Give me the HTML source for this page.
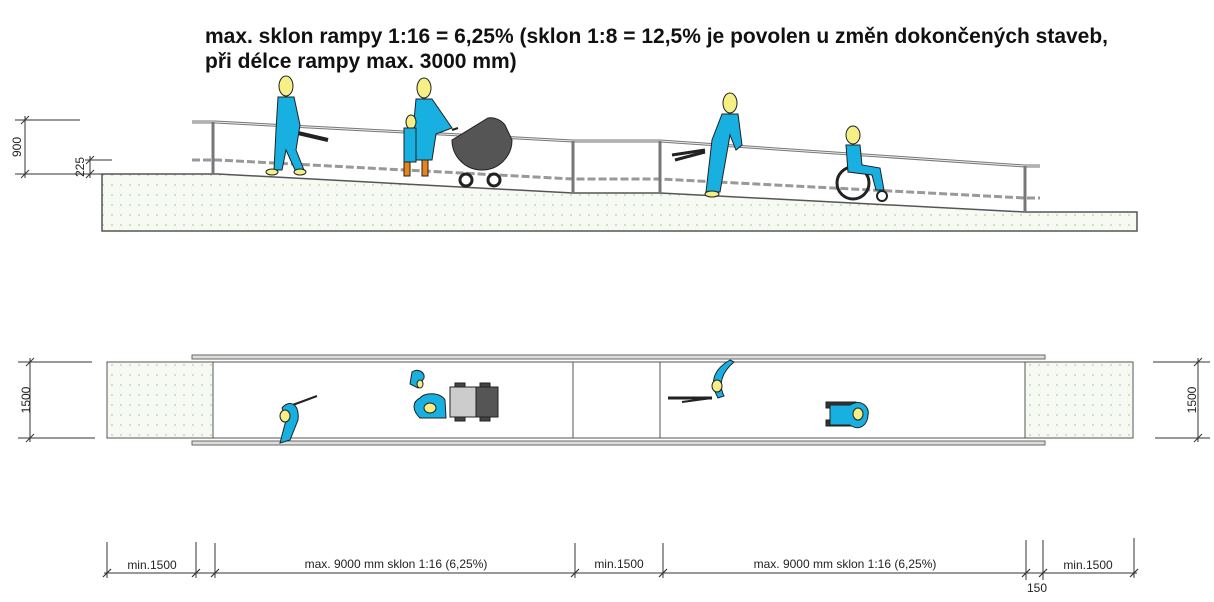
<!DOCTYPE html>
<html><head><meta charset="utf-8"><style>
html,body{margin:0;padding:0;background:#fff;}
svg{display:block;}
text{font-family:"Liberation Sans",Arial,sans-serif;}
</style></head><body>
<svg width="1214" height="602" viewBox="0 0 1214 602" xmlns="http://www.w3.org/2000/svg">
<defs>
<pattern id="dots" width="9" height="10" patternUnits="userSpaceOnUse">
<rect width="9" height="10" fill="#f6faf3"/>
<circle cx="4" cy="5" r="0.9" fill="#aed0a6"/>
</pattern>
</defs>
<text x="205" y="43" font-size="21" font-weight="bold" fill="#111" textLength="903" lengthAdjust="spacingAndGlyphs">max. sklon rampy 1:16 = 6,25% (sklon 1:8 = 12,5% je povolen u změn dokončených staveb,</text>
<text x="205" y="68" font-size="21" font-weight="bold" fill="#111">při délce rampy max. 3000 mm)</text>

<!-- ELEVATION -->
<g stroke="#333" stroke-width="1" fill="none">
<line x1="15" y1="120" x2="80" y2="120"/>
<line x1="15" y1="174" x2="102" y2="174"/>
<line x1="25" y1="116" x2="25" y2="178"/>
<line x1="21" y1="124" x2="29" y2="116"/><line x1="21" y1="178" x2="29" y2="170"/>
<line x1="85" y1="160" x2="112" y2="160"/>
<line x1="90" y1="156" x2="90" y2="178"/>
<line x1="86" y1="164" x2="94" y2="156"/><line x1="86" y1="178" x2="94" y2="170"/>
</g>
<text transform="translate(21,147) rotate(-90)" font-size="12" text-anchor="middle" fill="#222">900</text>
<text transform="translate(84,167) rotate(-90)" font-size="12" text-anchor="middle" fill="#222">225</text>

<polygon points="102,174 218,174 573,193 660,193 1025,212 1137,212 1137,231 102,231" fill="url(#dots)" stroke="#555" stroke-width="1.5"/>

<!-- railing -->
<g stroke="#777" fill="none">
<polyline points="192,122 215,122 573,141 660,141 1025,166 1040,166" stroke-width="3"/>
<polyline points="192,122 215,122 573,141 660,141 1025,166 1040,166" stroke="#eee" stroke-width="1"/>
<polyline points="192,160 218,160 573,179 660,179 1025,198 1040,198" stroke="#999" stroke-width="3" stroke-dasharray="8 3"/>
<line x1="213" y1="122" x2="213" y2="174" stroke-width="3"/>
<line x1="573" y1="141" x2="573" y2="193" stroke-width="3"/>
<line x1="660" y1="141" x2="660" y2="193" stroke-width="3"/>
<line x1="1025" y1="166" x2="1025" y2="212" stroke-width="3"/>
</g>

<!-- figures elevation -->
<g stroke="#222" stroke-width="1">
<line x1="285" y1="130" x2="328" y2="140" stroke-width="4"/>
<ellipse cx="286" cy="86" rx="7" ry="10" fill="#f5ef85"/>
<path d="M278 97 L294 97 L300 125 L296 150 L304 170 L296 172 L286 150 L282 170 L274 170 L276 130 Z" fill="#18b0e0"/>
<ellipse cx="272" cy="172" rx="6" ry="3" fill="#f5ef85"/>
<ellipse cx="300" cy="172" rx="6" ry="3" fill="#f5ef85"/>
<ellipse cx="424" cy="88" rx="7" ry="10" fill="#f5ef85"/>
<path d="M416 99 L432 99 L452 128 L436 134 L432 160 L410 160 L414 120 Z" fill="#18b0e0"/>
<ellipse cx="411" cy="122" rx="5" ry="7" fill="#f5ef85"/>
<rect x="404" y="128" width="12" height="34" fill="#18b0e0"/>
<rect x="404" y="162" width="6" height="14" fill="#e8841a"/>
<rect x="422" y="160" width="6" height="16" fill="#e8841a"/>
<path d="M452 140 A30 30 0 0 0 512 140 L505 125 A18 18 0 0 0 488 118 Z" fill="#555"/>
<path d="M452 130 L458 128" stroke="#222" stroke-width="2"/>
<circle cx="466" cy="180" r="6" fill="#fff" stroke-width="3"/>
<circle cx="494" cy="180" r="6" fill="#fff" stroke-width="3"/>
<line x1="672" y1="155" x2="705" y2="150" stroke-width="3"/>
<line x1="675" y1="160" x2="705" y2="152" stroke-width="3"/>
<ellipse cx="730" cy="103" rx="7" ry="10" fill="#f5ef85"/>
<path d="M722 114 L738 114 L742 145 L736 150 L730 135 L720 192 L706 192 L712 140 Z" fill="#18b0e0"/>
<ellipse cx="712" cy="194" rx="7" ry="3" fill="#f5ef85"/>
<circle cx="853" cy="183" r="16" fill="none" stroke-width="3"/>
<circle cx="882" cy="196" r="5" fill="none" stroke-width="2"/>
<ellipse cx="853" cy="135" rx="7" ry="9" fill="#f5ef85"/>
<path d="M846 145 L860 145 L862 165 L880 168 L884 190 L876 190 L872 175 L848 172 Z" fill="#18b0e0"/>
</g>

<!-- PLAN -->
<rect x="107" y="362" width="106" height="76" fill="url(#dots)" stroke="#555"/>
<rect x="1025" y="362" width="108" height="76" fill="url(#dots)" stroke="#555"/>
<g stroke="#555" fill="none">
<rect x="213" y="362" width="812" height="76"/>
<line x1="573" y1="362" x2="573" y2="438"/>
<line x1="660" y1="362" x2="660" y2="438"/>
<rect x="192" y="355" width="853" height="4" stroke="#666" fill="#ddd"/>
<rect x="192" y="441" width="853" height="4" stroke="#666" fill="#ddd"/>
</g>
<g stroke="#222" stroke-width="1">
<line x1="290" y1="406" x2="317" y2="396" stroke-width="2"/>
<path d="M282 408 C288 400 300 402 298 420 L290 440 L280 443 L286 420 Z" fill="#18b0e0"/>
<ellipse cx="285" cy="416" rx="5" ry="6" fill="#f5ef85"/>
<path d="M412 372 C418 368 425 372 424 378 L418 388 L410 384 Z" fill="#18b0e0"/>
<ellipse cx="420" cy="384" rx="3" ry="4" fill="#f5ef85"/>
<path d="M420 398 C425 392 440 392 445 400 L446 418 L420 418 C412 410 412 402 420 398 Z" fill="#18b0e0"/>
<ellipse cx="430" cy="408" rx="6" ry="5" fill="#f5ef85"/>
<rect x="450" y="387" width="28" height="30" fill="#ccc"/>
<rect x="476" y="387" width="22" height="30" fill="#555"/>
<rect x="455" y="383" width="10" height="4" fill="#444"/><rect x="480" y="383" width="10" height="4" fill="#444"/>
<rect x="455" y="417" width="10" height="4" fill="#444"/><rect x="480" y="417" width="10" height="4" fill="#444"/>
<line x1="668" y1="398" x2="712" y2="398" stroke-width="3"/>
<line x1="682" y1="402" x2="712" y2="398" stroke-width="2"/>
<path d="M730 360 C716 368 708 380 718 398 L724 396 C718 384 722 372 734 362 Z" fill="#18b0e0"/>
<ellipse cx="717" cy="386" rx="5" ry="6" fill="#f5ef85"/>
<rect x="826" y="402" width="30" height="6" fill="#333"/>
<rect x="826" y="420" width="30" height="6" fill="#333"/>
<path d="M830 405 L850 405 C862 398 870 408 868 415 C868 424 860 432 850 425 L830 425 Z" fill="#18b0e0"/>
<ellipse cx="858" cy="414" rx="5" ry="6" fill="#f5ef85"/>
</g>
<g stroke="#333" fill="none">
<line x1="18" y1="362" x2="92" y2="362"/>
<line x1="18" y1="438" x2="95" y2="438"/>
<line x1="30" y1="358" x2="30" y2="442"/>
<line x1="26" y1="366" x2="34" y2="358"/><line x1="26" y1="442" x2="34" y2="434"/>
<line x1="1153" y1="362" x2="1210" y2="362"/>
<line x1="1155" y1="438" x2="1210" y2="438"/>
<line x1="1198" y1="358" x2="1198" y2="442"/>
<line x1="1194" y1="366" x2="1202" y2="358"/><line x1="1194" y1="442" x2="1202" y2="434"/>
</g>
<text transform="translate(30,400) rotate(-90)" font-size="12" text-anchor="middle" fill="#222">1500</text>
<text transform="translate(1196,400) rotate(-90)" font-size="12" text-anchor="middle" fill="#222">1500</text>

<g stroke="#333" fill="none">
<line x1="104" y1="573" x2="1137" y2="573"/>
<line x1="107" y1="542" x2="107" y2="578"/>
<line x1="196" y1="542" x2="196" y2="578"/>
<line x1="215" y1="543" x2="215" y2="578"/>
<line x1="575" y1="543" x2="575" y2="578"/>
<line x1="663" y1="543" x2="663" y2="578"/>
<line x1="1026" y1="540" x2="1026" y2="580"/>
<line x1="1043" y1="540" x2="1043" y2="580"/>
<line x1="1134" y1="538" x2="1134" y2="578"/>
<g stroke-width="1.2">
<line x1="103" y1="577" x2="111" y2="569"/><line x1="192" y1="577" x2="200" y2="569"/>
<line x1="211" y1="577" x2="219" y2="569"/><line x1="571" y1="577" x2="579" y2="569"/>
<line x1="659" y1="577" x2="667" y2="569"/><line x1="1022" y1="577" x2="1030" y2="569"/>
<line x1="1039" y1="577" x2="1047" y2="569"/><line x1="1130" y1="577" x2="1138" y2="569"/>
</g>
</g>
<g font-size="12" fill="#222" text-anchor="middle">
<text x="152" y="569">min.1500</text>
<text x="396" y="568">max. 9000 mm sklon 1:16 (6,25%)</text>
<text x="619" y="568">min.1500</text>
<text x="845" y="568">max. 9000 mm sklon 1:16 (6,25%)</text>
<text x="1037" y="592">150</text>
<text x="1088" y="569">min.1500</text>
</g>
</svg>
</body></html>
